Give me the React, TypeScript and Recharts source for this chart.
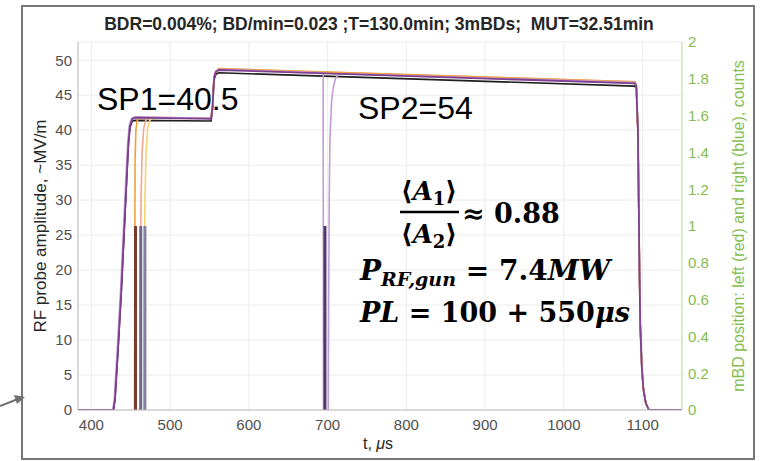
import { CartesianGrid, ComposedChart, Line, XAxis, YAxis } from 'recharts';

const W = 762;
const H = 461;

const timeTicks = [400, 500, 600, 700, 800, 900, 1000, 1100];
const ampTicks = [0, 5, 10, 15, 20, 25, 30, 35, 40, 45, 50];
const countTicks = [0, 0.2, 0.4, 0.6, 0.8, 1, 1.2, 1.4, 1.6, 1.8, 2];

const title = 'BDR=0.004%; BD/min=0.023 ;T=130.0min; 3mBDs;  MUT=32.51min';

// RF probe traces: [t (us), amplitude (MV/m)]
const blackTrace: [number, number][] = [
  [383, 0], [428, 0], [430, 1.5], [434, 9], [438, 17], [442, 26.5], [445, 33.5], [447, 38],
  [449, 40.4], [452, 41.3], [456, 41.4], [552, 41.3], [554, 43.2], [555, 45.7], [556, 47.3],
  [558, 48.0], [562, 48.2], [1090, 46.3], [1092, 45.9], [1094, 40], [1095, 30], [1096, 20],
  [1097, 12], [1099, 6], [1101, 3], [1104, 1], [1108, 0], [1150, 0],
];

const yellowTrace: [number, number][] = [
  [466.8, 0], [467.2, 18], [468, 30], [469.5, 37], [471.5, 40.3], [474, 41.4], [478, 41.8],
  [552, 41.7], [554, 43.7], [555, 46.2], [556, 47.7], [558, 48.4], [562, 48.7], [1090, 46.8],
  [1092, 46.4], [1094, 40], [1095, 30], [1096, 20], [1097, 12], [1099, 6], [1101, 3], [1104, 1],
  [1108, 0],
];

const salmonTrace: [number, number][] = [
  [461.8, 0], [462.2, 18], [463, 30], [464.5, 37], [466.5, 40.3], [469, 41.4], [473, 41.8],
  [552, 41.7], [554, 43.7], [555, 46.2], [556, 47.7], [558, 48.4], [562, 48.8], [1090, 46.9],
  [1092, 46.4], [1094, 40], [1095, 30], [1096, 20], [1097, 12], [1099, 6], [1101, 3], [1104, 1],
  [1108, 0],
];

const orangeTrace: [number, number][] = [
  [454.8, 0], [455.1, 20], [455.5, 36], [456.5, 40], [458, 41.3], [460, 41.8], [552, 41.7],
  [554, 43.7], [555, 46.2], [556, 47.7], [558, 48.4], [562, 48.8], [1090, 46.9], [1092, 46.4],
  [1094, 40], [1095, 30], [1096, 20], [1097, 12], [1099, 6], [1101, 3], [1104, 1], [1108, 0],
];

const lavenderTrace: [number, number][] = [
  [427, 0], [429, 1.5], [433, 9], [437, 17], [441, 26.5], [444, 33.5], [446, 38], [448, 40.6],
  [451, 41.7], [455, 41.9], [552, 41.7], [554, 43.7], [555, 46.2], [556, 47.7], [558, 48.4],
  [562, 48.7], [694.3, 48.2], [694.7, 0], [700.8, 0], [701.3, 15], [702, 30], [703, 39],
  [705, 44], [707, 46], [710, 47.4], [715, 48.1], [1090, 46.8], [1092, 46.4], [1094, 40],
  [1095, 30], [1096, 20], [1097, 12], [1099, 6], [1101, 3], [1104, 1], [1108, 0],
];

const purpleTrace: [number, number][] = [
  [383, 0], [428, 0], [430, 1.5], [434, 9], [438, 17], [442, 26.5], [445, 33.5], [447, 38],
  [449, 40.6], [452, 41.6], [456, 41.8], [552, 41.6], [554, 43.5], [555, 46], [556, 47.6],
  [558, 48.3], [562, 48.6], [1090, 46.7], [1092, 46.3], [1094, 40], [1095, 30], [1096, 20],
  [1097, 12], [1099, 6], [1101, 3], [1104, 1], [1108, 0], [1150, 0],
];

// micro-breakdown positions (right axis, counts)
const mbdTimes = [456, 462.7, 468, 696.6];
const mbdCounts = [1, 1, 1, 1];

const traces = [
  { key: 'black', points: blackTrace, color: '#1e1e1e', width: 1.6 },
  { key: 'yellow', points: yellowTrace, color: '#f5d370', width: 1.6 },
  { key: 'salmon', points: salmonTrace, color: '#f2a78f', width: 1.6 },
  { key: 'orange', points: orangeTrace, color: '#f0a23a', width: 1.6 },
  { key: 'lavender', points: lavenderTrace, color: '#c49cd6', width: 1.6 },
  { key: 'purple', points: purpleTrace, color: '#7e3f8f', width: 1.8 },
];
const mbdColors = ['#7a3b2c', '#6c6a88', '#85839f', '#4e3a68'];

const green = '#86bc4f';
const tickFont = { fontFamily: 'Liberation Sans, Arial, sans-serif', fontSize: 15 };
const mathFont = 'DejaVu Serif, serif';

function fmtCount(v: number) {
  return String(Number(v.toFixed(1)));
}

function Overlay() {
  return (
    <svg width={W} height={H} style={{ position: 'absolute', left: 0, top: 0, pointerEvents: 'none' }}>
      <rect x={22} y={6} width={732} height={453} fill="none" stroke="#777" strokeWidth={2} />
      <line x1={0} y1={406} x2={18} y2={399} stroke="#707070" strokeWidth={2} />
      <polygon points="25,397 14,395 17,404" fill="#707070" />
      <text x={379} y={30} textAnchor="middle" fontFamily="Liberation Sans, Arial" fontWeight="bold" fontSize={17.5} fill="#262626" style={{ whiteSpace: 'pre' }}>
        {title}
      </text>
      <text transform="translate(46 226) rotate(-90)" textAnchor="middle" fontFamily="Liberation Sans, Arial" fontSize={17} fill="#262626">
        RF probe amplitude, ~MV/m
      </text>
      <text transform="translate(744 226) rotate(-90)" textAnchor="middle" fontFamily="Liberation Sans, Arial" fontSize={16} fill={green}>
        mBD position: left (red) and right (blue), counts
      </text>
      <text x={378} y={449} textAnchor="middle" fontFamily="Liberation Sans, Arial" fontSize={16} fill="#262626">
        t, <tspan fontStyle="italic">μ</tspan>s
      </text>
      <text x={97} y={110} fontFamily="Liberation Sans, Arial" fontSize={32} fill="#000">SP1=40.5</text>
      <text x={358} y={119} fontFamily="Liberation Sans, Arial" fontSize={32} fill="#000">SP2=54</text>
      <g fontFamily={mathFont} fontWeight="bold" fill="#000">
        <text x={429} y={200} textAnchor="middle" fontSize={26}>
          ⟨<tspan fontStyle="italic">A</tspan><tspan fontSize={18} dy={5}>1</tspan><tspan dy={-5}>⟩</tspan>
        </text>
        <line x1={400} y1={212} x2={459} y2={212} stroke="#000" strokeWidth={2.5} />
        <text x={429} y={243} textAnchor="middle" fontSize={26}>
          ⟨<tspan fontStyle="italic">A</tspan><tspan fontSize={18} dy={5}>2</tspan><tspan dy={-5}>⟩</tspan>
        </text>
        <text x={462} y={223} fontSize={27}>≈ 0.88</text>
        <text x={360} y={280} fontSize={28}>
          <tspan fontStyle="italic">P</tspan>
          <tspan fontStyle="italic" fontSize={19} dy={6}>RF,gun</tspan>
          <tspan dy={-6}> = 7.4</tspan>
          <tspan fontStyle="italic">MW</tspan>
        </text>
        <text x={360} y={322} fontSize={27}>
          <tspan fontStyle="italic">PL</tspan> = 100 + 550<tspan fontStyle="italic">μs</tspan>
        </text>
      </g>
    </svg>
  );
}

export default function App() {
  return (
    <div style={{ position: 'absolute', left: 0, top: 0, width: W, height: H, background: '#fff' }}>
      <ComposedChart width={W} height={H} margin={{ top: 42, right: 0, bottom: 0, left: 0 }}>
        <CartesianGrid yAxisId="left" stroke="#ebebeb" horizontal vertical />
        <XAxis
          dataKey="t"
          type="number"
          domain={[383, 1150]}
          ticks={timeTicks}
          allowDataOverflow
          height={51}
          stroke="#bdbdbd"
          tick={{ ...tickFont, fill: '#505050' }}
          tickLine={false}
          tickSize={4}
          tickMargin={5}
        />
        <YAxis
          yAxisId="left"
          width={78}
          domain={[0, 52.6]}
          ticks={ampTicks}
          allowDataOverflow
          stroke="#bdbdbd"
          tick={{ ...tickFont, fill: '#505050' }}
          tickLine={false}
          tickSize={4}
          tickMargin={2}
        />
        <YAxis
          yAxisId="right"
          orientation="right"
          width={80}
          domain={[0, 2]}
          ticks={countTicks}
          tickFormatter={fmtCount}
          stroke="#c4dfa4"
          tick={{ ...tickFont, fill: green }}
          tickLine={false}
          tickSize={4}
          tickMargin={2}
        />
        {traces.map((tr) => (
          <Line
            key={tr.key}
            yAxisId="left"
            data={tr.points.map(([t, a]) => ({ t, a }))}
            dataKey="a"
            type="linear"
            stroke={tr.color}
            strokeWidth={tr.width}
            dot={false}
            activeDot={false}
            isAnimationActive={false}
          />
        ))}
        {mbdTimes.map((t, i) => (
          <Line
            key={`mbd-${i}`}
            yAxisId="right"
            data={[{ t, c: 0 }, { t, c: mbdCounts[i] }]}
            dataKey="c"
            type="linear"
            stroke={mbdColors[i]}
            strokeWidth={3}
            strokeLinecap="butt"
            dot={false}
            activeDot={false}
            isAnimationActive={false}
          />
        ))}
      </ComposedChart>
      <Overlay />
    </div>
  );
}
